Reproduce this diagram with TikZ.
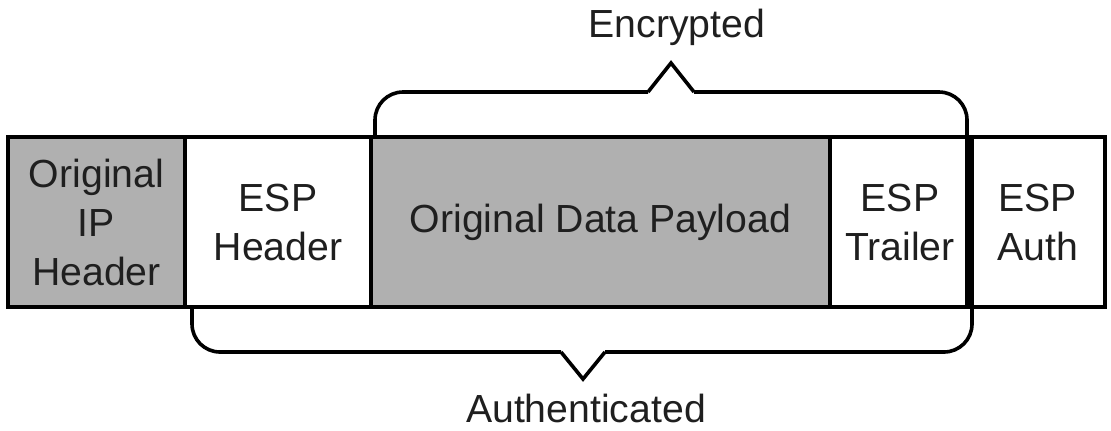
\documentclass[tikz,border=0pt]{standalone}
\usepackage{fontspec}
\setmainfont{Liberation Sans}
\begin{document}
\begin{tikzpicture}[x=0.5pt,y=-0.5pt,
  field/.style={draw=black,line width=2pt,minimum height=85pt,inner sep=0pt,
    align=center,text=black!88,font=\fontsize{19.6}{24.5}\selectfont},
  gfield/.style={field,fill=black!31},
  wfield/.style={field,fill=white},
  brace/.style={draw=black,line width=1.8pt,rounded corners=14pt},
  tip/.style={draw=black,line width=1.8pt,line join=miter},
  lbl/.style={text=black!88,font=\fontsize{19.6}{24.5}\selectfont,inner sep=0pt}]
\useasboundingbox (0,0) rectangle (1111,430);
% fields
\node[gfield,minimum width=88.5pt] (iph) at (96.5,222) {Original\\IP\\Header};
\node[wfield,minimum width=93pt] (esph) at (278,222) {ESP\\Header};
\node[gfield,minimum width=229.5pt] (pay) at (600.5,222) {Original Data Payload};
\node[wfield,minimum width=70pt] (espt) at (900,222) {ESP\\Trailer};
\node[wfield,minimum width=67.5pt] (espa) at (1037.5,222) {ESP\\Auth};
% encrypted brace
\draw[brace] (375,137) -- (375,92) -- (648,92);
\draw[tip] (648,92) -- (671,63) -- (694,92);
\draw[brace] (694,92) -- (967,92) -- (967,307);
% authenticated brace
\draw[brace] (192,307) -- (192,352) -- (561,352);
\draw[tip] (561,352) -- (583,379) -- (605,352);
\draw[brace] (605,352) -- (972,352) -- (972,137);
% labels
\node[lbl] (enc) at (677,27) {Encrypted};
\node[lbl] (auth) at (586,408) {Authenticated};
\end{tikzpicture}
\end{document}
